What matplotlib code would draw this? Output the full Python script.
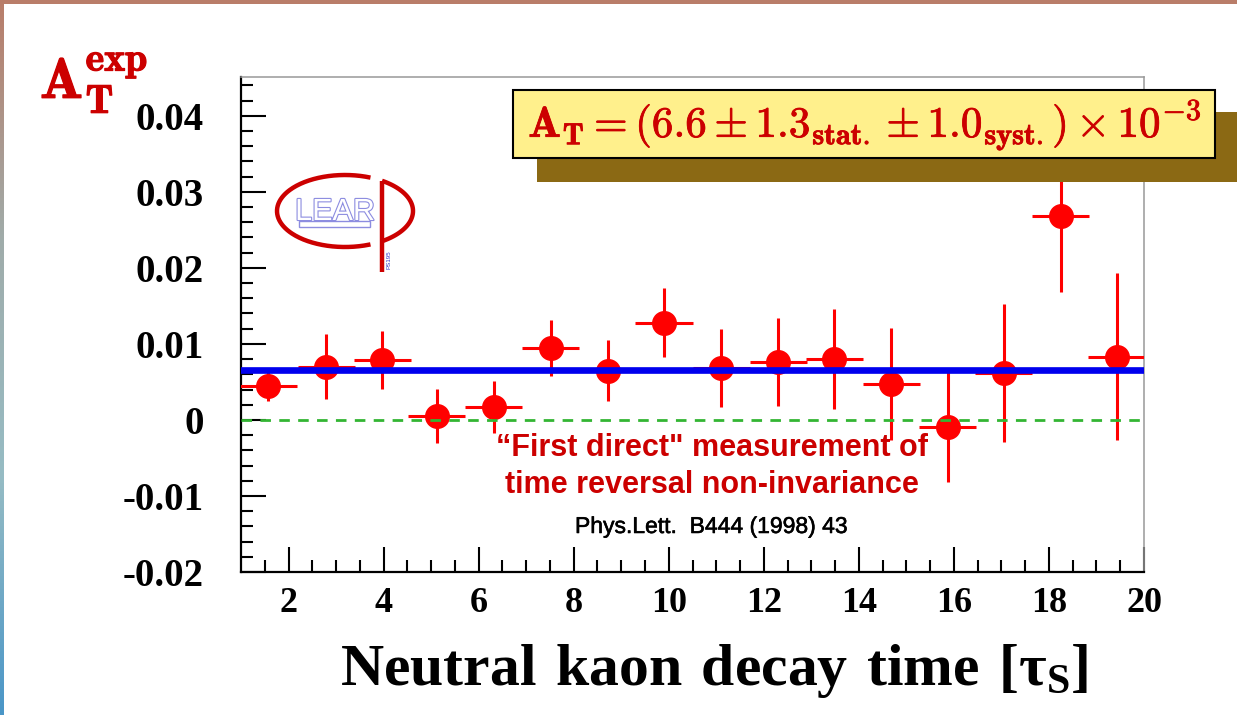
import numpy as np
import matplotlib
matplotlib.use("Agg")
import matplotlib.pyplot as plt
from matplotlib.patches import Rectangle
from matplotlib.colors import LinearSegmentedColormap
import matplotlib.patheffects as pe

# data
t = [1.57, 2.79, 3.97, 5.12, 6.32, 7.52, 8.72, 9.90,
     11.10, 12.30, 13.48, 14.68, 15.87, 17.05, 18.25, 19.43]
a_t = [0.0045, 0.0070, 0.0079, 0.0005, 0.0017, 0.0095, 0.0065, 0.0128,
       0.0068, 0.0076, 0.0080, 0.0047, -0.0009, 0.0062, 0.0268, 0.0083]
a_err = [0.0020, 0.0043, 0.0038, 0.0036, 0.0034, 0.0037, 0.0040, 0.0045,
         0.0051, 0.0058, 0.0066, 0.0074, 0.0072, 0.0091, 0.0100, 0.0110]
t_err = 0.6
a_mean = 0.0066

xticks = [2, 4, 6, 8, 10, 12, 14, 16, 18, 20]
xlabels = ['2', '4', '6', '8', '10', '12', '14', '16', '18', '20']
yticks = [-0.02, -0.01, 0.0, 0.01, 0.02, 0.03, 0.04]
ylabels = ['-0.02', '-0.01', '0', '0.01', '0.02', '0.03', '0.04']

W, H = 1237, 715
fig = plt.figure(figsize=(W / 100, H / 100), dpi=100)

# main axes
ax = fig.add_axes([241 / W, 1 - 572 / H, (1144 - 241) / W, (572 - 77) / H])
ax.errorbar(t, a_t, xerr=t_err, yerr=a_err, fmt='o', color='#ff0000',
            ms=17, elinewidth=2.2, capsize=0, zorder=3)
ax.axhline(0, color='#33b533', lw=2.0, linestyle=(0, (3.8, 3.0)), zorder=4)
ax.axhline(a_mean, color='#0000ee', lw=4.8, zorder=5)

ax.set_xlim(1, 20)
ax.set_ylim(-0.02, 0.0451)
ax.set_xticks(xticks, labels=xlabels)
ax.set_yticks(yticks, labels=ylabels)
ax.set_xticks(np.arange(1.5, 20, 0.5), minor=True)
ax.set_yticks(np.arange(-0.02, 0.045, 0.002), minor=True)
ax.tick_params(which='both', direction='in', top=False, right=False,
               width=1.5, color='black')
ax.tick_params(which='major', length=18)
ax.tick_params(which='minor', length=8.5)
ax.tick_params(axis='y', pad=27)
ax.tick_params(axis='x', pad=11)
for lab in ax.get_xticklabels():
    lab.set_fontfamily('Liberation Serif')
    lab.set_fontweight('bold')
    lab.set_fontsize(26)
for lab in ax.get_yticklabels():
    lab.set_fontfamily('Liberation Serif')
    lab.set_fontweight('bold')
    lab.set_fontsize(28)
for s in ['left', 'bottom']:
    ax.spines[s].set_linewidth(1.6)
    ax.spines[s].set_color('black')
for s in ['top', 'right']:
    ax.spines[s].set_linewidth(1.1)
    ax.spines[s].set_color('#999999')

# overlay in pixel coordinates for decorations and text
ov = fig.add_axes([0, 0, 1, 1])
ov.axis('off')

# slide border
ov.add_patch(Rectangle((0, 0), W, 4, color='#b97d69', lw=0))
grad = LinearSegmentedColormap.from_list('edge', ['#b97d69', '#a0acaa', '#96bcc4', '#4a96c8'])
ov.imshow(np.linspace(0, 1, 256).reshape(-1, 1), cmap=grad, aspect='auto',
          extent=[0, 4, H, 0], zorder=1)
ov.set_xlim(0, W)
ov.set_ylim(H, 0)

# result box with shadow
ov.add_patch(Rectangle((537, 112), 720, 70, color='#8b6914', lw=0, zorder=2))
ov.add_patch(Rectangle((513, 90), 702, 68, facecolor='#fff08c',
                       edgecolor='black', lw=1.5, zorder=3))
ov.text(865, 125, r'$\mathbf{A_T = (6.6 \pm 1.3_{stat.} \pm 1.0_{syst.}) \times 10^{-3}}$',
        color='#cc0000', fontsize=31, math_fontfamily='cm',
        ha='center', va='center', zorder=4,
        path_effects=[pe.withStroke(linewidth=0.6, foreground='#cc0000')])

# y axis title
ov.text(40, 98, r'$\mathbf{A_T^{exp}}$', color='#cc0000', fontsize=41,
        math_fontfamily='cm', ha='left', va='baseline',
        path_effects=[pe.withStroke(linewidth=0.9, foreground='#cc0000')])

# x axis title
ov.text(714, 685, '$\\mathregular{Neutral\\ kaon\\ decay\\ time\\ [\u03c4_S]}$',
        fontfamily='Liberation Serif', fontweight='bold', fontsize=43,
        ha='center', va='baseline')

# annotations
ov.text(712, 456, '\u201cFirst direct" measurement of', color='#cc0000',
        fontfamily='Liberation Sans', fontweight='bold', fontsize=22,
        ha='center', va='baseline')
ov.text(712, 493, 'time reversal non-invariance', color='#cc0000',
        fontfamily='Liberation Sans', fontweight='bold', fontsize=22,
        ha='center', va='baseline')
ov.text(711, 533, 'Phys.Lett.  B444 (1998) 43', color='black',
        fontfamily='Liberation Sans', fontsize=16.5, ha='center', va='baseline',
        path_effects=[pe.withStroke(linewidth=0.4, foreground='black')])

# LEAR logo
cx, cy, ea, eb = 345, 211, 68, 36
th = np.radians(np.linspace(68, 292, 200))
ov.plot(cx + ea * np.cos(th), cy - eb * np.sin(th), color='#cc0000', lw=3.2,
        solid_capstyle='butt')
th = np.radians(np.linspace(-57, 57, 120))
ov.plot(cx + ea * np.cos(th), cy - eb * np.sin(th), color='#cc0000', lw=3.2,
        solid_capstyle='butt')
stem_x = cx + ea * np.cos(np.radians(57))
ov.plot([stem_x, stem_x], [cy - eb * np.sin(np.radians(57)), 272],
        color='#cc0000', lw=3.2, solid_capstyle='butt')
ov.text(335, 220, 'LEAR', color='white', fontsize=22,
        fontfamily=['Liberation Sans Narrow', 'Liberation Sans'],
        ha='center', va='baseline',
        path_effects=[pe.Stroke(linewidth=1.6, foreground='#8c8ce0'), pe.Normal()])
ov.add_patch(Rectangle((299, 221), 71, 6, facecolor='white',
                       edgecolor='#8c8ce0', lw=1.0))
ov.text(389, 260, 'PS195', color='#3333cc', fontsize=4.5, rotation=90,
        ha='center', va='center', fontfamily='Liberation Sans')

fig.savefig('out.png', dpi=100)
